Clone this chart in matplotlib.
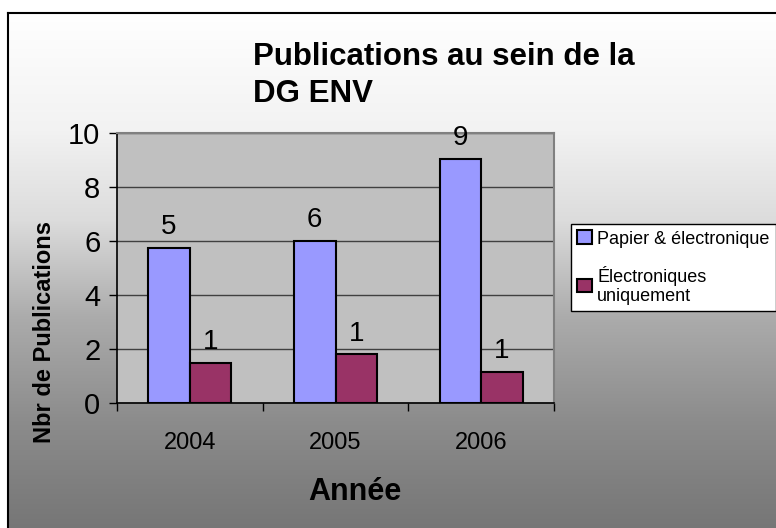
import numpy as np
import matplotlib.pyplot as plt
from matplotlib.lines import Line2D

plt.rcParams['font.family'] = ['Liberation Sans', 'DejaVu Sans']

# Données du graphique
annees = ['2004', '2005', '2006']
papier_electronique = [5.75, 6.0, 9.05]
electroniques_seul = [1.5, 1.8, 1.15]
etiquettes_papier = ['5', '6', '9']
etiquettes_electro = ['1', '1', '1']
noms_series = ['Papier & électronique', 'Électroniques\nuniquement']

W, H = 776, 528
fig = plt.figure(figsize=(W / 100, H / 100), dpi=100)

# Fond dégradé (blanc en haut, gris en bas) à l'intérieur du cadre
bg_ax = fig.add_axes([0, 0, 1, 1], zorder=-10)
rows = np.arange(H)
level = np.interp(rows, [12, 130, 220, 315, 420, 528], [255, 242, 220, 172, 140, 118]) / 255
bg = np.repeat(level[:, None], W, axis=1)
bg[:12, :] = 1.0
bg[:, :7] = 1.0
bg_ax.imshow(np.dstack([bg, bg, bg]), aspect='auto', extent=[0, W, H, 0], interpolation='bilinear')
bg_ax.set_xlim(0, W)
bg_ax.set_ylim(H, 0)
bg_ax.axis('off')
bg_ax.add_line(Line2D([7.5, 7.5], [12.5, H], color='black', lw=1.5))
bg_ax.add_line(Line2D([7.5, W], [12.5, 12.5], color='black', lw=1.5))

# Zone de tracé
ax = fig.add_axes([117 / W, 1 - 403 / H, (554 - 117) / W, (403 - 133) / H])
ax.set_facecolor('#C0C0C0')

x = np.arange(len(annees))
w = 0.285
b1 = ax.bar(x - w / 2, papier_electronique, w, color='#9999FF', edgecolor='black', lw=1.5,
            label=noms_series[0], zorder=3)
b2 = ax.bar(x + w / 2, electroniques_seul, w, color='#993366', edgecolor='black', lw=1.5,
            label=noms_series[1], zorder=3)

for rect, lab in zip(list(b1) + list(b2), etiquettes_papier + etiquettes_electro):
    ax.annotate(lab, (rect.get_x() + rect.get_width() / 2, rect.get_height()),
                xytext=(0, 10), textcoords='offset points', ha='center', va='baseline',
                fontsize=20)

ax.set_xlim(-0.5, 2.5)
ax.set_ylim(0, 10)
ax.set_yticks(range(0, 11, 2))
ax.yaxis.grid(True, color='#404040', lw=1, zorder=1)
ax.set_axisbelow(True)
ax.tick_params(axis='y', labelsize=21, length=6, width=1, pad=6, direction='out')

# Graduations de l'axe X aux limites des catégories, libellés au centre
ax.set_xticks([-0.5, 0.5, 1.5, 2.5])
ax.set_xticklabels([])
ax.set_xticks(x, minor=True)
ax.set_xticklabels(annees, minor=True)
ax.tick_params(axis='x', which='major', length=6, width=1, direction='out')
ax.tick_params(axis='x', which='minor', length=0, labelsize=17, pad=21)

for side in ['top', 'right']:
    ax.spines[side].set_color('#808080')
    ax.spines[side].set_linewidth(1.5)
for side in ['left', 'bottom']:
    ax.spines[side].set_color('black')
    ax.spines[side].set_linewidth(1.2)

# Titres
fig.text(253 / W, 1 - 102 / H, 'Publications au sein de la\nDG ENV', fontsize=22.5,
         fontweight='bold', ha='left', va='baseline', linespacing=1.3,
         multialignment='left')
fig.text(355 / W, 1 - 500 / H, 'Année', fontsize=22, fontweight='bold', ha='center', va='baseline')
fig.text(45 / W, 1 - 332 / H, 'Nbr de Publications', fontsize=17, fontweight='bold',
         rotation=90, ha='center', va='center')

# Légende
leg = fig.legend(loc='upper left', bbox_to_anchor=(571 / W, 1 - 224 / H), fontsize=13,
                 frameon=True, fancybox=False, edgecolor='black', facecolor='white',
                 framealpha=1, handlelength=0.8, handleheight=0.8, handletextpad=0.3,
                 borderpad=0.35, labelspacing=1.0, borderaxespad=0)
leg.get_frame().set_linewidth(1)

fig.savefig('out.png', dpi=100)
